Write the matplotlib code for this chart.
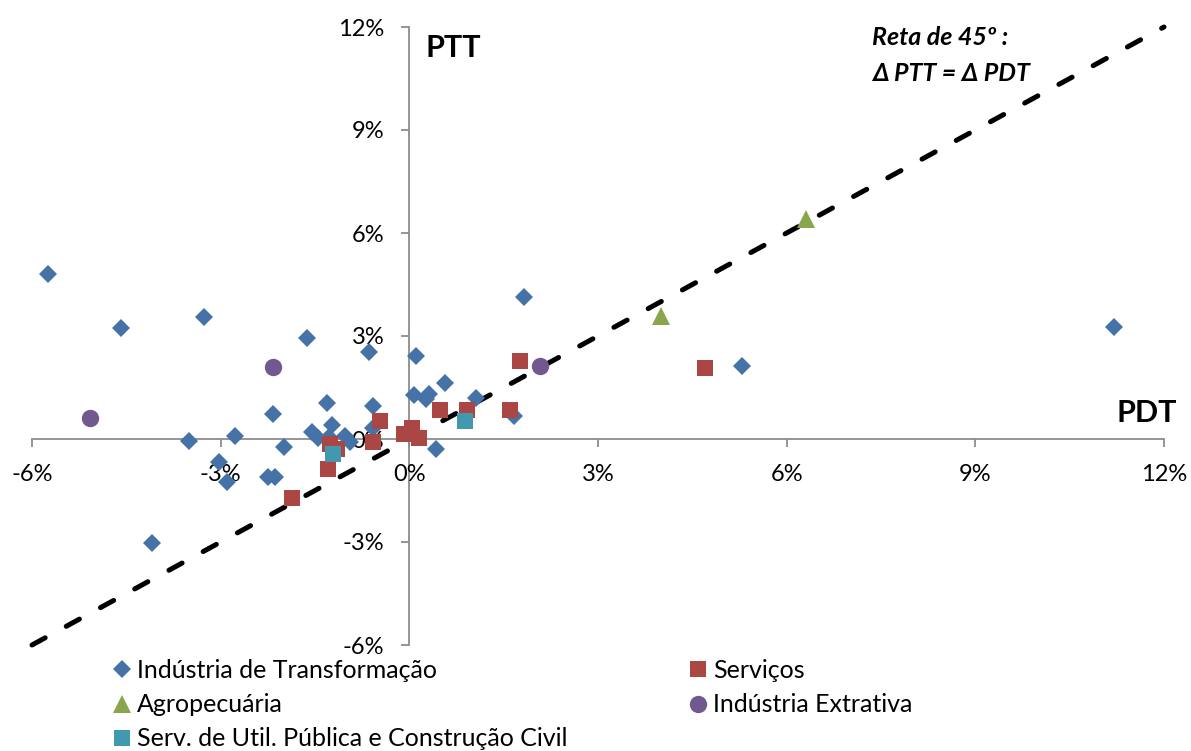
import matplotlib
matplotlib.use("Agg")
import matplotlib.pyplot as plt

plt.rcParams['font.family'] = ['Lato', 'DejaVu Sans']

# ---- data (percent) ----
ind_transf_x = [-5.75, -4.58, -3.27, -1.62, -0.64, 0.11, 1.82, 5.29, 11.21,
                -2.16, -1.31, -0.57, -3.51, -2.78, -3.02, -2.90, -2.25, -2.14,
                -1.99, -4.09, -1.54, -1.23, -1.45, -1.28, -1.02, -0.94, -0.58,
                0.08, 0.32, 0.27, 0.57, 1.06, 1.66, 0.43]
ind_transf_y = [4.82, 3.24, 3.54, 2.94, 2.53, 2.42, 4.14, 2.13, 3.26,
                0.73, 1.04, 0.95, -0.06, 0.08, -0.66, -1.26, -1.11, -1.11,
                -0.24, -3.04, 0.19, 0.41, 0.02, 0.05, 0.10, -0.10, 0.31,
                1.27, 1.30, 1.17, 1.64, 1.19, 0.66, -0.28]

servicos_x = [1.76, 4.70, 0.49, 0.91, 1.60, -0.47, -1.26, -1.15, -0.57,
              0.04, -0.08, 0.16, -1.30, -1.86]
servicos_y = [2.27, 2.07, 0.84, 0.84, 0.84, 0.52, -0.15, -0.29, -0.09,
              0.31, 0.15, 0.04, -0.88, -1.73]

agro_x = [4.00, 6.31]
agro_y = [3.58, 6.41]

extrativa_x = [-5.08, -2.17, 2.07]
extrativa_y = [0.60, 2.11, 2.12]

util_x = [0.89, -1.21]
util_y = [0.52, -0.43]

line45 = [-6, 12]

tick_vals = [-6, -3, 0, 3, 6, 9, 12]
tick_labels = ['-6%', '-3%', '0%', '3%', '6%', '9%', '12%']

labels = ['Indústria de Transformação', 'Serviços', 'Agropecuária',
          'Indústria Extrativa', 'Serv. de Util. Pública e Construção Civil']

c_blue = '#4572A7'
c_red = '#AA4643'
c_green = '#89A54E'
c_purple = '#71588F'
c_cyan = '#4198AF'

# ---- figure ----
W, H = 1191, 751
fig = plt.figure(figsize=(W / 100, H / 100), dpi=100)
ax = fig.add_axes([32 / W, 1 - 645 / H, (1164 - 32) / W, (645 - 27) / H])
ax.set_xlim(-6, 12)
ax.set_ylim(-6, 12)
ax.patch.set_alpha(0)

ax.plot(line45, line45, color='black', lw=3.6, dashes=(3.0, 4.8),
        dash_capstyle='round', zorder=2, clip_on=False)

h1, = ax.plot(ind_transf_x, ind_transf_y, 'D', color=c_blue, ms=9.5, mew=0, zorder=3)
h2, = ax.plot(servicos_x, servicos_y, 's', color=c_red, ms=12, mew=0, zorder=4)
h3, = ax.plot(agro_x, agro_y, '^', color=c_green, ms=13, mew=0, zorder=4)
h4, = ax.plot(extrativa_x, extrativa_y, 'o', color=c_purple, ms=12.5, mew=0, zorder=4)
h5, = ax.plot(util_x, util_y, 's', color=c_cyan, ms=12, mew=0, zorder=5)

for s in ['top', 'right']:
    ax.spines[s].set_visible(False)
ax.spines['left'].set_position(('data', 0))
ax.spines['bottom'].set_position(('data', 0))
for s in ['left', 'bottom']:
    ax.spines[s].set_color('#8C8C8C')
    ax.spines[s].set_linewidth(1.3)
    ax.spines[s].set_zorder(1)

ax.set_xticks(tick_vals)
ax.set_xticklabels(tick_labels)
ax.set_yticks(tick_vals)
ax.set_yticklabels(tick_labels)
ax.tick_params(axis='both', direction='out', length=6, width=1.3,
               color='#8C8C8C', labelsize=17, labelcolor='black', pad=12)

ax.text(0.25, 11.4, 'PTT', fontsize=22, fontweight='bold', ha='left', va='center')
ax.text(12.2, 0.75, 'PDT', fontsize=22, fontweight='bold', ha='right', va='center')
ax.text(7.35, 11.68, 'Reta de 45º :', fontsize=18, fontweight='bold',
        style='italic', ha='left', va='center')
ax.text(7.35, 10.66, 'Δ PTT = Δ PDT', fontsize=18, fontweight='bold',
        style='italic', ha='left', va='center')

handles = [h1, h3, h5, h2, h4]
leg_labels = [labels[0], labels[2], labels[4], labels[1], labels[3]]
fig.legend(handles, leg_labels, loc='upper left',
           bbox_to_anchor=(113 / W, 1 - 659 / H), ncol=2, frameon=False,
           fontsize=18, handlelength=0.7, handletextpad=0.26,
           columnspacing=4.85, labelspacing=0.45, borderaxespad=0,
           borderpad=0)

fig.savefig('out.png', dpi=100)
